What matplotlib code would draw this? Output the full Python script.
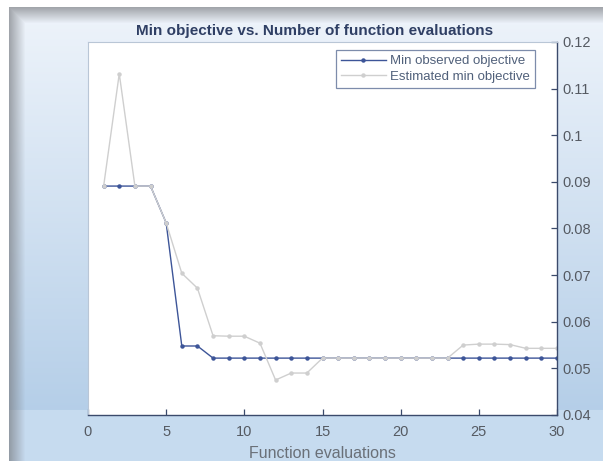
import numpy as np
import matplotlib
matplotlib.use("Agg")
import matplotlib.pyplot as plt

plt.rcParams['font.family'] = ['Liberation Sans', 'DejaVu Sans']

# data
evals = list(range(1, 31))
min_observed = [0.0891, 0.0891, 0.0891, 0.0891, 0.0812, 0.0548, 0.0548, 0.0522, 0.0522, 0.0522,
                0.0522, 0.0522, 0.0522, 0.0522, 0.0522, 0.0522, 0.0522, 0.0522, 0.0522, 0.0522,
                0.0522, 0.0522, 0.0522, 0.0522, 0.0522, 0.0522, 0.0522, 0.0522, 0.0522, 0.0522]
est_min = [0.0891, 0.1132, 0.0891, 0.0891, 0.0812, 0.0704, 0.0672, 0.0570, 0.0569, 0.0569,
           0.0554, 0.0475, 0.0490, 0.0490, 0.0522, 0.0522, 0.0522, 0.0522, 0.0522, 0.0522,
           0.0522, 0.0522, 0.0522, 0.0550, 0.0552, 0.0552, 0.0551, 0.0543, 0.0543, 0.0543]
xticks = [0, 5, 10, 15, 20, 25, 30]
yticks = [0.04, 0.05, 0.06, 0.07, 0.08, 0.09, 0.1, 0.11, 0.12]
ytick_labels = ['0.04', '0.05', '0.06', '0.07', '0.08', '0.09', '0.1', '0.11', '0.12']

W, H = 603, 461
fig = plt.figure(figsize=(W / 100, H / 100), dpi=100)

# window background: blue gradient with a shadowed frame
bg = fig.add_axes([0, 0, 1, 1])
yy = np.linspace(0, 1, H)[:, None]
top = np.array([0.94, 0.96, 0.985])
mid = np.array([0.71, 0.81, 0.91])
low = np.array([0.78, 0.86, 0.94])
t = np.clip(yy / 0.89, 0, 1)
grad = top * (1 - t[..., None]) + mid * t[..., None]
grad = np.where((yy > 0.89)[..., None], low + 0 * t[..., None], grad)
img = np.repeat(grad, W, axis=1)
xs = np.arange(W)[None, :]
ys = np.arange(H)[:, None]
shade_l = np.clip((xs - 9) / 16.0, 0, 1)
shade_t = np.clip((ys - 8) / 16.0, 0, 1)
shade = np.minimum(shade_l, shade_t)
gray = np.array([0.47, 0.48, 0.50])
img = img * (0.35 + 0.65 * shade[..., None]) + gray * (0.65 * (1 - shade[..., None]))
img[:8, :, :] = 1.0
img[:, :9, :] = 1.0
bg.imshow(img, aspect='auto', extent=[0, 1, 0, 1], origin='upper')
bg.set_axis_off()

ax = fig.add_axes([88 / W, 1 - 415 / H, (557 - 88) / W, (415 - 42) / H])
ax.set_facecolor('white')
ax.plot(evals, min_observed, color='#3d5598', lw=1.0, marker='o', ms=2.2,
        label='Min observed objective')
ax.plot(evals, est_min, color='#cfcfcf', lw=1.0, marker='o', ms=2.2,
        label='Estimated min objective')

ax.set_xlim(0, 30)
ax.set_ylim(0.04, 0.12)
ax.set_xticks(xticks)
ax.set_yticks(yticks)
ax.set_yticklabels(ytick_labels)
ax.yaxis.tick_right()
ax.yaxis.set_label_position('right')
ax.tick_params(direction='in', length=4, colors='#3b4a6b', labelcolor='#555a62',
               labelsize=10.5, width=0.9)
ax.tick_params(axis='x', pad=7)
ax.tick_params(axis='y', pad=4)
for s in ['left', 'top']:
    ax.spines[s].set_color('#b9c6d6')
    ax.spines[s].set_linewidth(0.8)
for s in ['right', 'bottom']:
    ax.spines[s].set_color('#3b4a6b')
    ax.spines[s].set_linewidth(1.0)

ax.set_title('Min objective vs. Number of function evaluations', fontsize=11,
             fontweight='bold', color='#2f3f64', pad=5, x=0.483)
ax.set_xlabel('Function evaluations', fontsize=11.5, color='#6a7078', labelpad=5)
ax.set_ylabel('Min objective', fontsize=11.5, color='#606770', labelpad=14)

leg = ax.legend(loc='upper right', bbox_to_anchor=(0.953, 0.979), fontsize=9.5,
                frameon=True, fancybox=False, borderaxespad=0, handlelength=3.4,
                handletextpad=0.3, labelspacing=0.25, borderpad=0.4)
leg.get_frame().set_edgecolor('#5d6f96')
leg.get_frame().set_linewidth(0.9)
for txt in leg.get_texts():
    txt.set_color('#50607a')

fig.savefig('out.png', dpi=100)
